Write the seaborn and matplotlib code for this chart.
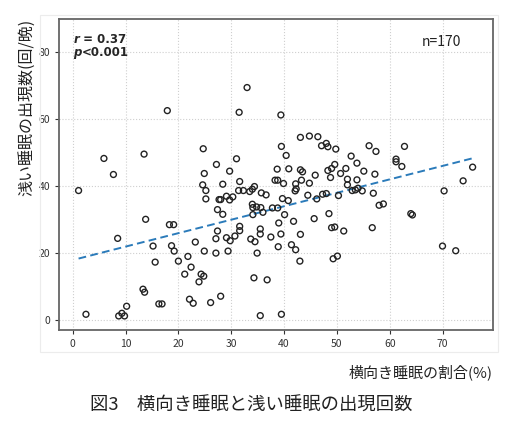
import numpy as np
import pandas as pd
import matplotlib
matplotlib.use("Agg")
import matplotlib.pyplot as plt
from matplotlib.patches import Rectangle
import seaborn as sns

# side-sleep ratio (%) vs. number of light-sleep episodes per night
side_ratio = [
    1.1, 5.9, 7.7, 13.5, 17.9, 24.7, 24.9, 24.6, 25.2, 27.2,
    28.4, 29.7, 31.0, 31.5, 33.0, 31.6, 31.4, 32.3, 33.5, 34.0,
    34.4, 25.2, 27.7, 28.0, 29.1, 29.7, 30.3, 35.7, 39.4, 43.1,
    44.8, 46.4, 39.5, 40.4, 47.1, 48.0, 48.3, 49.8, 56.1, 57.4,
    62.8, 52.7, 53.8, 55.1, 57.2, 61.2, 61.2, 62.3, 75.7, 73.9,
    70.3, 38.7, 40.9, 43.1, 43.5, 45.9, 48.3, 49.0, 49.6, 48.8,
    50.7, 51.7, 52.0, 53.8, 38.3, 38.8, 39.9, 42.2, 43.3, 44.8,
    42.1, 42.3, 44.5, 47.3, 48.0, 50.3, 52.0, 52.9, 53.5, 54.0,
    54.8, 56.9, 36.6, 39.7, 40.8, 46.2, 58.0, 58.8, 35.6, 36.0,
    37.8, 38.8, 40.1, 35.5, 35.5, 39.0, 37.5, 39.4, 41.8, 43.1,
    38.9, 41.4, 42.2, 43.0, 45.7, 48.5, 49.0, 49.6, 51.3, 49.3,
    50.1, 56.7, 64.0, 64.3, 70.0, 72.5, 36.8, 35.5, 39.5, 2.5,
    8.5, 8.7, 9.3, 9.8, 10.2, 13.8, 13.3, 13.6, 15.2, 15.6,
    16.3, 16.9, 18.3, 19.1, 18.7, 19.2, 20.0, 21.2, 21.8, 22.4,
    23.2, 22.1, 22.8, 23.9, 24.3, 24.8, 24.9, 26.1, 27.1, 27.4,
    27.1, 27.4, 28.4, 28.0, 29.1, 29.8, 29.4, 30.7, 31.6, 31.6,
    33.7, 34.5, 34.0, 34.1, 34.1, 34.9, 34.3, 34.8,
]
light_sleep = [
    38.7, 48.3, 43.5, 49.6, 62.6, 51.2, 43.8, 40.4, 38.7, 46.5,
    40.6, 44.5, 48.2, 62.1, 69.5, 41.4, 38.7, 38.7, 38.4, 39.1,
    39.9, 36.2, 36.0, 36.0, 37.0, 35.9, 36.8, 38.0, 61.3, 54.6,
    55.0, 54.8, 51.9, 49.2, 52.1, 52.8, 51.8, 51.1, 52.1, 50.4,
    51.9, 49.0, 46.9, 44.5, 43.6, 48.1, 47.3, 45.9, 45.7, 41.6,
    38.6, 45.1, 45.2, 44.9, 44.3, 43.3, 44.7, 45.3, 46.5, 42.6,
    43.8, 45.3, 42.1, 41.9, 41.8, 41.8, 40.8, 40.7, 41.8, 40.9,
    38.6, 39.2, 37.3, 37.6, 37.8, 37.2, 40.4, 38.7, 38.9, 39.4,
    38.6, 37.9, 37.4, 36.3, 35.7, 36.2, 34.3, 34.7, 33.6, 32.2,
    33.5, 33.5, 31.5, 27.2, 25.7, 29.0, 24.8, 25.7, 29.5, 25.6,
    21.9, 22.5, 21.0, 17.6, 30.3, 31.8, 27.6, 27.8, 26.6, 18.3,
    19.1, 27.6, 31.8, 31.4, 22.1, 20.7, 12.0, 1.3, 1.7, 1.7,
    24.4, 1.2, 2.0, 1.2, 4.1, 30.1, 9.2, 8.3, 22.1, 17.3,
    4.8, 4.8, 28.5, 28.5, 22.2, 20.6, 17.6, 13.7, 19.0, 15.8,
    23.3, 6.2, 5.0, 11.4, 13.7, 13.1, 20.6, 5.2, 24.3, 26.6,
    20.0, 33.0, 31.6, 7.1, 24.6, 23.7, 20.6, 25.1, 28.0, 26.7,
    24.2, 23.4, 34.6, 33.6, 31.5, 20.0, 12.6, 33.8,
]
x_ticks = [0, 10, 20, 30, 40, 50, 60, 70]
y_ticks = [0, 20, 40, 60, 80]

df = pd.DataFrame({"side": side_ratio, "light": light_sleep})

sns.set_style("white")
plt.rcParams['font.family'] = ['Noto Sans CJK JP', 'DejaVu Sans']

fig = plt.figure(figsize=(5.2, 4.24), dpi=100)
ax = fig.add_axes([0.1135, 0.2217, 0.835, 0.7335])

# faint frame around the plot region (scanned figure look)
fig.patches.append(Rectangle((0.077, 0.17), 0.881, 0.795, transform=fig.transFigure,
                             fill=False, ec='#ececec', lw=0.8))

sns.scatterplot(data=df, x="side", y="light", ax=ax, marker='o', s=18,
                facecolor='none', edgecolor='#222222', linewidth=1.0, zorder=3)
sns.regplot(data=df, x="side", y="light", ax=ax, scatter=False, ci=None, truncate=True,
            line_kws=dict(color='#2b7bba', lw=1.4, ls=(0, (4, 2.2))))

ax.set_xlim(-2.6, 79.6)
ax.set_ylim(-3, 90)
ax.set_xticks(x_ticks)
ax.set_yticks(y_ticks)
ax.grid(True, ls=':', color='#cfcfcf', lw=0.8)
ax.tick_params(axis='both', which='major', labelsize=7.5, colors='#333333',
               length=3, width=0.8, direction='out', bottom=True, left=True)
for s in ax.spines.values():
    s.set_color('#666666')
    s.set_linewidth(1.3)
ax.set_xlabel("")
ax.set_ylabel("")

fig.text(0.052, 0.955, "浅い睡眠の出現数(回/晩)", rotation=90, ha='center', va='top',
         fontsize=11.5, color='#222222')
fig.text(0.948, 0.123, "横向き睡眠の割合(%)", ha='right', va='center',
         fontsize=10.8, color='#222222')
fig.text(0.483, 0.044, "図3　横向き睡眠と浅い睡眠の出現回数", ha='center', va='center',
         fontsize=13.2, color='#222222')

t_r = ax.text(0.033, 0.955, "r", transform=ax.transAxes, fontsize=8.5,
              fontweight='bold', fontstyle='italic', va='top', family='DejaVu Sans')
ax.annotate(" = 0.37", xy=(1, 0), xycoords=t_r, va='bottom', fontsize=8.5,
            fontweight='bold', family='DejaVu Sans')
t_p = ax.text(0.033, 0.912, "p", transform=ax.transAxes, fontsize=8.5,
              fontweight='bold', fontstyle='italic', va='top', family='DejaVu Sans')
ax.annotate("<0.001", xy=(1, 0), xycoords=t_p, va='bottom', fontsize=8.5,
            fontweight='bold', family='DejaVu Sans')
ax.text(0.881, 0.926, "n=170", transform=ax.transAxes, ha='center', va='center',
        fontsize=10, color='#222222')

fig.savefig("out.png", dpi=100)
